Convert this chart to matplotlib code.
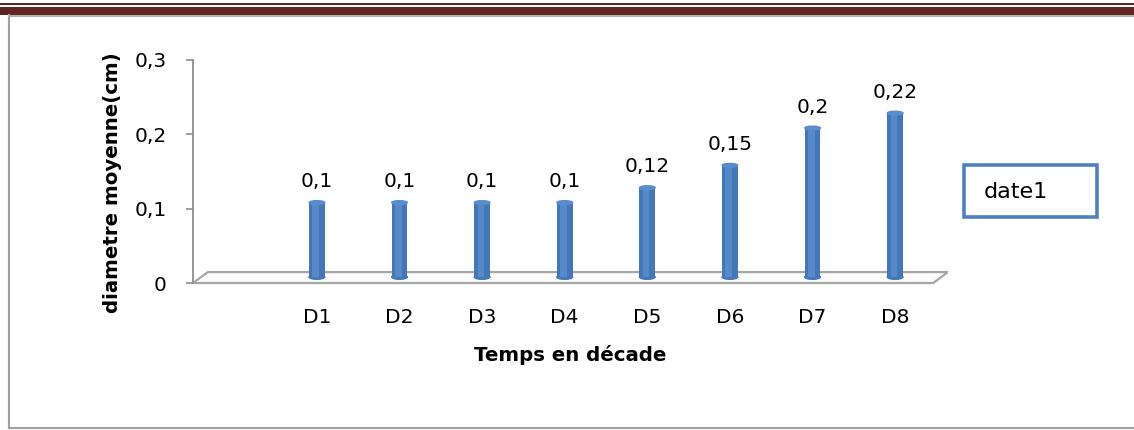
import matplotlib
matplotlib.use("Agg")
import numpy as np
import matplotlib.pyplot as plt
from matplotlib.patches import Polygon, Ellipse, Rectangle
from matplotlib.lines import Line2D

plt.rcParams["font.family"] = ["DejaVu Sans"]

# ── Data ─────────────────────────────────────────────────────────────────────
decades = ["D1", "D2", "D3", "D4", "D5", "D6", "D7", "D8"]
diam_mean = [0.1, 0.1, 0.1, 0.1, 0.12, 0.15, 0.2, 0.22]
y_ticks = [0, 0.1, 0.2, 0.3]
y_ticklabels = ["0", "0,1", "0,2", "0,3"]
series_name = "date1"

W, H = 1134, 430
fig = plt.figure(figsize=(W / 100, H / 100), dpi=100)


def px(x0, y0, w, h):
    """pixel box (from top-left) -> figure fraction rect"""
    return [x0 / W, (H - y0 - h) / H, w / W, h / H]


# ── Page header rules and frame ──────────────────────────────────────────────
RED = "#622423"
fig.add_artist(Rectangle((0, 1 - 5 / H), 1, 2 / H, transform=fig.transFigure,
                         color=RED, lw=0))
fig.add_artist(Rectangle((0, 1 - 14.5 / H), 1, 7.5 / H, transform=fig.transFigure,
                         color=RED, lw=0))
fig.add_artist(Line2D([9 / W, 9 / W], [1 - 15 / H, 1 - 428 / H],
                      transform=fig.transFigure, color="#a0a0a0", lw=1.5))
fig.add_artist(Line2D([9 / W, 1], [1 - 15.5 / H, 1 - 15.5 / H],
                      transform=fig.transFigure, color="#b0b0b0", lw=1.5))
fig.add_artist(Line2D([9 / W, 1], [1 - 428 / H, 1 - 428 / H],
                      transform=fig.transFigure, color="#a0a0a0", lw=1.5))

# ── Axes: bars + y-axis (drawn slightly lower, pseudo-3D) ────────────────────
YLIM = (-0.012, 0.3)
XLIM = (-1.50, 7.64)
ax = fig.add_axes(px(193, 53.5, 755, 232.5))
ax_y = fig.add_axes(px(193, 59.5, 755, 232.5))
for a in (ax, ax_y):
    a.set_ylim(*YLIM)
    a.set_xlim(*XLIM)
    a.patch.set_visible(False)
    for s in a.spines.values():
        s.set_visible(False)

# floor of the 3-D plot
floor = Polygon([(-1.50, -0.008), (7.46, -0.008), (7.64, 0.0067), (-1.32, 0.0067)],
                closed=True, facecolor="#fbfbfb", edgecolor="#a6a6a6", lw=1.6,
                zorder=1)
ax.add_patch(floor)

x = np.arange(len(decades))
bw = 0.19
ax.bar(x, diam_mean, width=bw, color="#4477b6", zorder=3)
ax.bar(x - 0.015, diam_mean, width=0.08, color="#5788c8", zorder=3.1, lw=0)
for xi, v in zip(x, diam_mean):
    ax.add_patch(Ellipse((xi, v), bw, 0.005, color="#5a8dcc", zorder=3.2))
    ax.add_patch(Ellipse((xi, 0), bw, 0.006, color="#4477b6", zorder=2.9))
    ax.annotate(f"{v:g}".replace(".", ","), (xi, v), xytext=(0, 11),
                textcoords="offset points", ha="center", va="baseline",
                fontsize=14.5, color="black", zorder=4)

ax.set_xticks(x)
ax.set_xticklabels(decades, fontsize=14.5)
ax.tick_params(axis="x", length=0, pad=16)
ax.set_yticks([])
ax.set_xlabel("Temps en décade", fontsize=14.2, fontweight="bold", labelpad=13)

ax_y.set_xticks([])
ax_y.spines["left"].set_visible(True)
ax_y.spines["left"].set_color("#8c8c8c")
ax_y.spines["left"].set_linewidth(1.3)
ax_y.spines["left"].set_bounds(0, 0.3)
ax_y.set_yticks(y_ticks)
ax_y.set_yticklabels(y_ticklabels, fontsize=14.5)
ax_y.tick_params(axis="y", length=5, width=1.2, color="#8c8c8c", pad=14)
ax_y.set_ylabel("diametre moyenne(cm)", fontsize=14.2, fontweight="bold",
                va="center")
ax_y.yaxis.set_label_coords(-0.106, 0.471)

# ── Legend box ───────────────────────────────────────────────────────────────
fig.add_artist(Rectangle((964 / W, 1 - 217 / H), 133 / W, 52 / H,
                         transform=fig.transFigure, facecolor="white",
                         edgecolor="#4f81bd", lw=2.6))
fig.text(984 / W, 1 - 192 / H, series_name, fontsize=16, ha="left",
         va="center")

fig.savefig("out.png", dpi=100)
